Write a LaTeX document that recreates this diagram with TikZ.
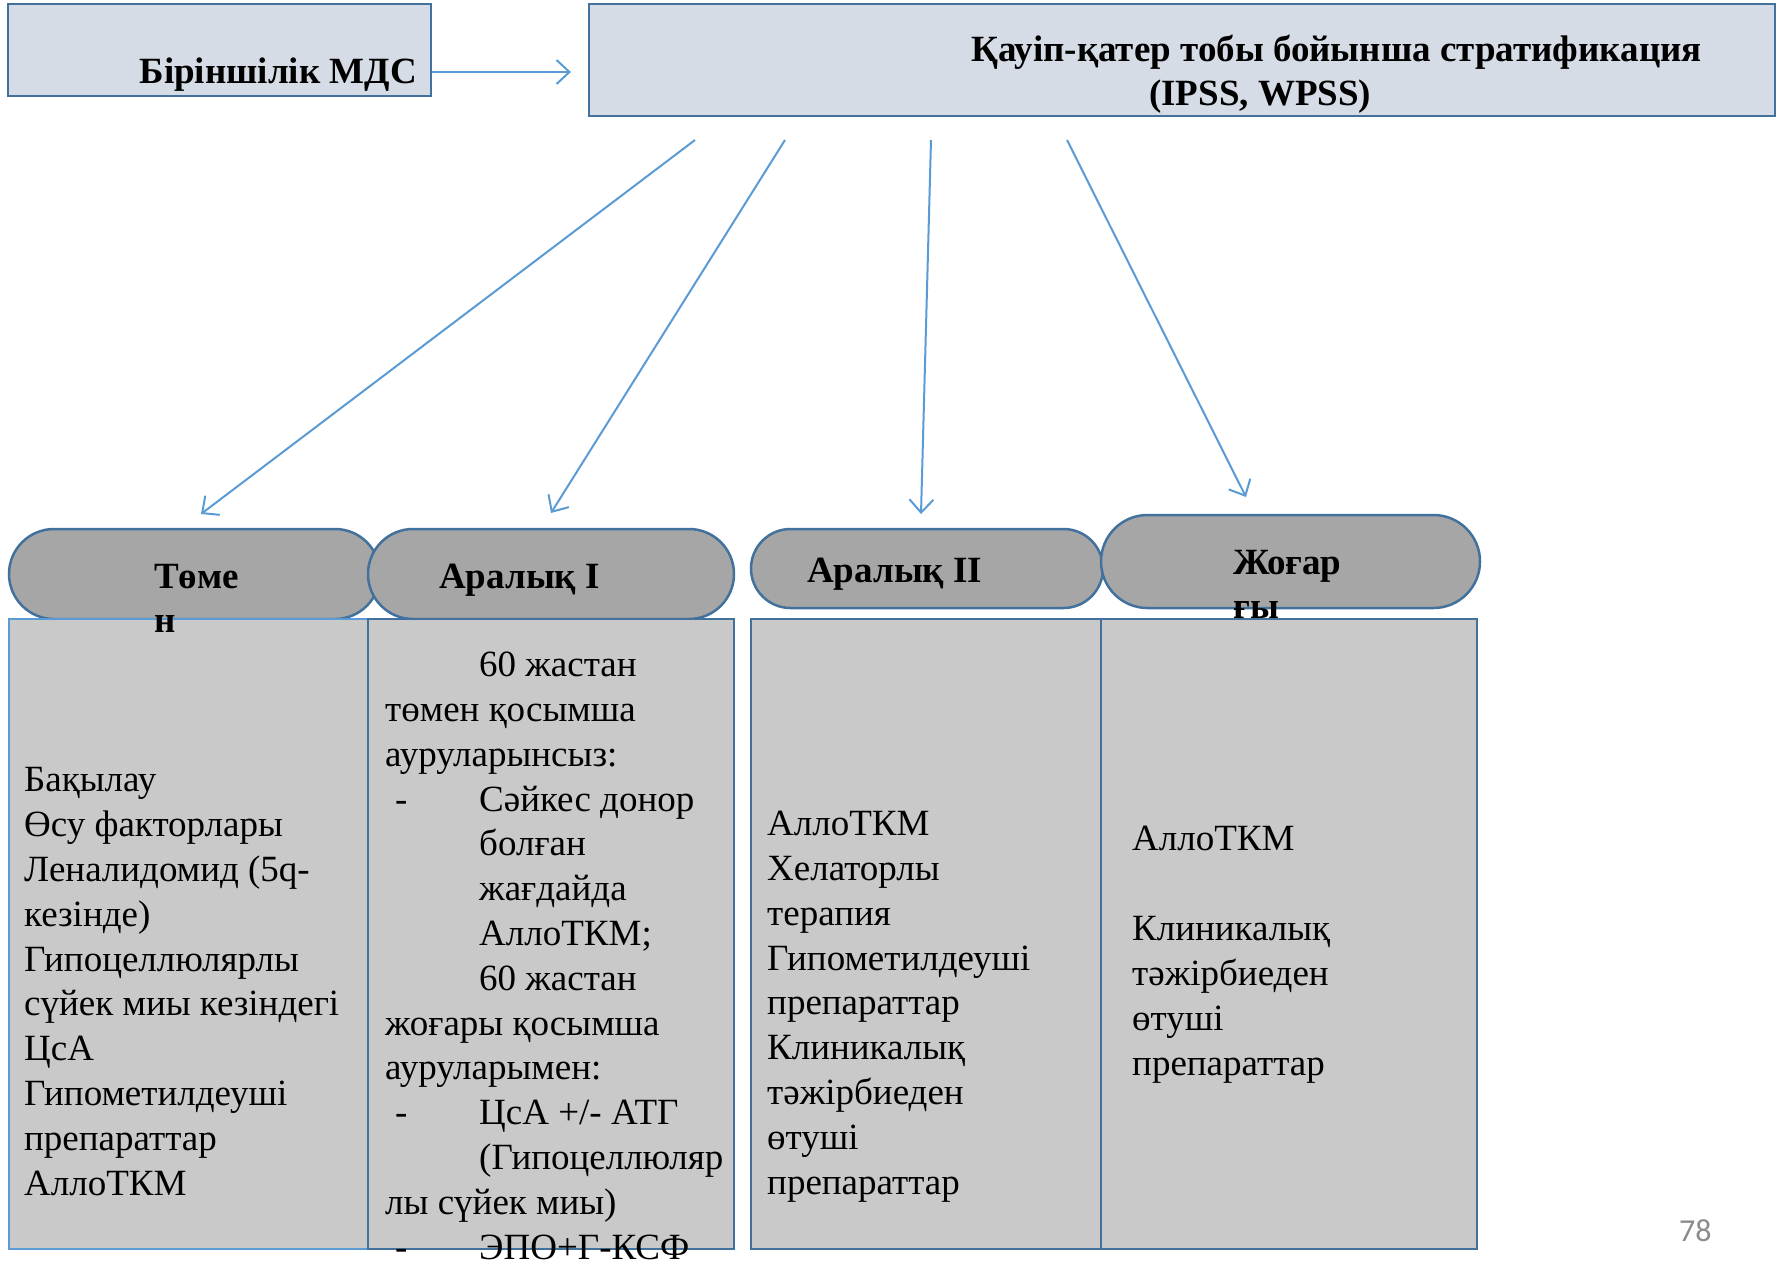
\documentclass[tikz,border=0pt]{standalone}
\usepackage{fontspec}
\setmainfont{Liberation Serif}
\newfontfamily\numfont{Carlito}
\usetikzlibrary{arrows.meta,shapes.misc}
\definecolor{boxfill}{HTML}{D6DCE5}
\definecolor{edge}{HTML}{41719C}
\definecolor{lightedge}{HTML}{5B9BD5}
\definecolor{pillfill}{HTML}{A6A6A6}
\definecolor{cellfill}{HTML}{C9C9C9}
\definecolor{arrowc}{HTML}{5B9BD5}
\definecolor{pagegray}{HTML}{8C8C8C}
\newcommand{\ind}{\hspace*{94pt}}
\newcommand{\dashind}{\makebox[94pt][l]{\hspace*{10pt}-}}
\begin{document}
\begin{tikzpicture}[x=1pt,y=-1pt,
  topbox/.style={draw=edge, fill=boxfill, line width=2.5pt, inner sep=0pt},
  pill/.style={rounded rectangle, draw=edge, fill=pillfill, line width=2.5pt, inner sep=0pt},
  cell/.style={draw=edge, fill=cellfill, line width=2pt, inner sep=0pt},
  arr/.style={draw=arrowc, line width=2pt, -{Straight Barb[length=13pt,width=24pt]}},
  hd/.style={font=\fontsize{37}{44}\selectfont\bfseries, inner sep=0pt, anchor=base west, align=left},
  ttl/.style={font=\fontsize{37}{44}\selectfont\bfseries, inner sep=0pt},
  body/.style={font=\fontsize{37}{44.8}\selectfont, inner sep=0pt, anchor=base west, align=left},
]
\useasboundingbox (0,0) rectangle (1781,1262);
\fill[white] (0,0) rectangle (1781,1262);

% top boxes
\node[topbox, minimum width=423pt, minimum height=92pt] (b1) at (219.5,50) {};
\node[topbox, minimum width=1186pt, minimum height=112pt] (b2) at (1182,60) {};
\node[ttl, anchor=base east] (tb1) at (417,83) {Біріншілік МДС};
\node[ttl, anchor=base west] (t2a) at (971,61) {Қауіп-қатер тобы бойынша стратификация};
\node[ttl, anchor=base west] (t2b) at (1149,105) {(IPSS, WPSS)};

% arrow box1 -> box2
\coordinate (a0) at (571,72);
\draw[arr] (a0 -| b1.east) -- (a0);

% pills
\node[pill, minimum width=371pt, minimum height=90pt] (p1) at (194.5,574) {};
\node[pill, minimum width=366pt, minimum height=90pt] (p2) at (551,574) {};
\node[pill, minimum width=352pt, minimum height=79pt] (p3) at (927,568.5) {};
\node[pill, minimum width=379pt, minimum height=93pt] (p4) at (1290.5,561.5) {};

% cells
\node[cell, draw=lightedge, minimum width=359pt, minimum height=630pt] (c1) at (188.5,934) {};
\node[cell, minimum width=366pt, minimum height=630pt] (c2) at (551,934) {};
\node[cell, minimum width=350pt, minimum height=630pt] (c3) at (926,934) {};
\node[cell, minimum width=376pt, minimum height=630pt] (c4) at (1289,934) {};

% arrows from stratification box
\coordinate (s1) at (695,140);  \coordinate (e1) at (201,514);
\coordinate (s2) at (785,140);  \coordinate (e2) at (551,513);
\coordinate (s3) at (931,140);  \coordinate (e3) at (921,514);
\coordinate (s4) at (1067,140); \coordinate (e4) at (1246,497);
\draw[arr] (s1) -- (e1);
\draw[arr] (s2) -- (e2);
\draw[arr] (s3) -- (e3);
\draw[arr] (s4) -- (e4);

% pill labels (base = last line)
\node[hd] (l1) at (154,632) {Төме\\н};
\node[hd] (l2) at (439,588) {Аралық I};
\node[hd] (l3) at (807,582) {Аралық II};
\node[hd] (l4) at (1233,618) {Жоғар\\ғы};

% cell texts (base = last line)
\node[body] (x1) at (24,1195) {Бақылау\\Өсу факторлары\\Леналидомид (5q-\\кезінде)\\Гипоцеллюлярлы\\сүйек миы кезіндегі\\ЦсА\\Гипометилдеуші\\препараттар\\АллоТКМ};
\node[body] (x2) at (385,1259) {\ind 60 жастан\\төмен қосымша\\ауруларынсыз:\\\dashind Сәйкес донор\\\ind болған\\\ind жағдайда\\\ind АллоТКМ;\\\ind 60 жастан\\жоғары қосымша\\ауруларымен:\\\dashind ЦсА +/- АТГ\\\ind (Гипоцеллюляр\\лы сүйек миы)\\\dashind ЭПО+Г-КСФ};
\node[body] (x3) at (767,1194) {АллоТКМ\\Хелаторлы\\терапия\\Гипометилдеуші\\препараттар\\Клиникалық\\тәжірбиеден\\өтуші\\препараттар};
\node[body] (x4) at (1132,1075) {АллоТКМ\\[45pt]Клиникалық\\тәжірбиеден\\өтуші\\препараттар};

% page number
\node[font=\numfont\fontsize{32}{36}\selectfont, text=pagegray, inner sep=0pt, anchor=base west] (pg) at (1679,1241) {78};
\end{tikzpicture}
\end{document}
